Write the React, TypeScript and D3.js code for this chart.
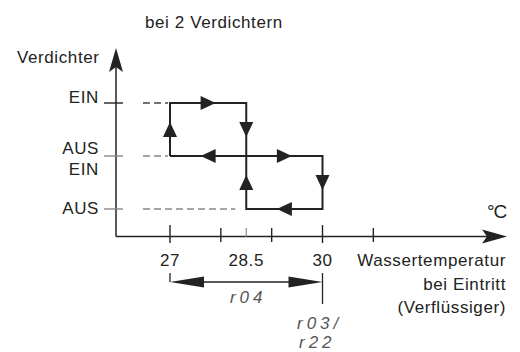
import React from 'react';
import * as d3 from 'd3';

// Compressor stage levels (0 = AUS, 1 = AUS/EIN, 2 = EIN)
const levels = [0, 1, 2];
const levelLabels = [["AUS"], ["AUS", "EIN"], ["EIN"]];
// Inlet water temperature ticks (°C)
const tempTicks = [27, 28, 28.5, 29, 30, 31];
const tempLabels = [27, 28.5, 30];
// Hysteresis loops
const loop1: [number, number][] = [[27, 1], [27, 2], [28.5, 2], [28.5, 1], [27, 1]];
const loop2: [number, number][] = [[28.5, 1], [30, 1], [30, 0], [28.5, 0], [28.5, 1]];
const dashEnds: [number, number][] = [[0, 28.5], [1, 27], [2, 27]];
const r04Range = [27, 30];

const FONT = "'Liberation Sans', Arial, Helvetica, sans-serif";
const INK = "#222";

export default function App() {
  const x = d3.scaleLinear().domain([27, 30]).range([170, 322.5]);
  const y = d3.scaleLinear().domain([0, 2]).range([209, 103]);
  const axisY = 236.5;
  const axisX = 116;

  const line = d3.line<[number, number]>().x(d => x(d[0])).y(d => y(d[1]));

  const arrowHead = (cx: number, cy: number, dx: number, dy: number, len = 15, w = 14) => {
    const px = -dy, py = dx;
    const tx = cx + dx * len / 2, ty = cy + dy * len / 2;
    const bx = cx - dx * len / 2, by = cy - dy * len / 2;
    return `M${tx},${ty} L${bx + px * w / 2},${by + py * w / 2} L${bx - px * w / 2},${by - py * w / 2} Z`;
  };

  const loopArrows = (pts: [number, number][]) =>
    pts.slice(0, -1).map((p, i) => {
      const q = pts[i + 1];
      const x1 = x(p[0]), y1 = y(p[1]), x2 = x(q[0]), y2 = y(q[1]);
      const L = Math.hypot(x2 - x1, y2 - y1);
      return arrowHead((x1 + x2) / 2, (y1 + y2) / 2, (x2 - x1) / L, (y2 - y1) / L);
    });

  const tickExtent = (t: number) => {
    if (t === 28.5) return [228, 236.5];
    if (t === 27 || t === 30) return [225, 243];
    return [228, 242];
  };

  const lcdStyle = {
    fontFamily: FONT,
    fontStyle: 'italic' as const,
    fontSize: 17,
    fill: '#555',
    letterSpacing: 4,
  };

  return (
    <svg width={520} height={352} style={{ position: 'absolute', left: 0, top: 0, background: '#fff' }}>
      <g fontFamily={FONT} fontSize={17} fill={INK} letterSpacing={0.6}>
        <text x={145} y={28}>bei 2 Verdichtern</text>
        <text x={17} y={63}>Verdichter</text>
        {levels.map(l => {
          const lab = levelLabels[l];
          if (lab.length === 2) {
            return (
              <g key={l}>
                <text x={99} y={y(l) - 2} textAnchor="end">{lab[0]}</text>
                <text x={99} y={y(l) + 19} textAnchor="end">{lab[1]}</text>
              </g>
            );
          }
          return <text key={l} x={99} y={l === 0 ? y(l) + 5 : y(l)} textAnchor="end">{lab[0]}</text>;
        })}
        {tempLabels.map(t => (
          <text key={t} x={x(t)} y={266} textAnchor="middle">{t}</text>
        ))}
        <text x={506} y={266} textAnchor="end">Wassertemperatur</text>
        <text x={506} y={289.5} textAnchor="end">bei Eintritt</text>
        <text x={506} y={313} textAnchor="end">(Verflüssiger)</text>
        <text x={487} y={218} fontSize={19} letterSpacing={-1}>°C</text>
      </g>

      {/* axes */}
      <line x1={axisX} y1={axisY} x2={axisX} y2={66} stroke={INK} strokeWidth={1.5} />
      <path d={`M${axisX},48 L${axisX + 7},72 L${axisX},67 L${axisX - 7},72 Z`} fill={INK} />
      <line x1={axisX} y1={axisY} x2={490} y2={axisY} stroke={INK} strokeWidth={1.5} />
      <path d={`M507,${axisY} L482,${axisY - 7} L487,${axisY} L482,${axisY + 7} Z`} fill={INK} />

      {/* y ticks */}
      {levels.map(l => (
        <line key={l} x1={104} x2={123} y1={y(l)} y2={y(l)} stroke={l === 2 ? INK : '#888'} strokeWidth={1.4} />
      ))}
      {/* x ticks */}
      {tempTicks.map(t => {
        const [a, b] = tickExtent(t);
        return <line key={t} x1={x(t)} x2={x(t)} y1={a} y2={b} stroke={t === 28.5 ? '#999' : INK} strokeWidth={1.4} />;
      })}

      {/* dashed reference lines */}
      {dashEnds.map(([l, t]) => (
        <line key={l} x1={143} x2={x(t) - (l === 0 ? 11 : 2)} y1={y(l)} y2={y(l)}
          stroke={l === 2 ? '#444' : '#888'} strokeWidth={1.3} strokeDasharray="7,4" />
      ))}

      {/* loops */}
      {[loop1, loop2].map((lp, i) => (
        <g key={i}>
          <path d={line(lp) || ''} fill="none" stroke={INK} strokeWidth={2} strokeLinejoin="miter" />
          {loopArrows(lp).map((d, j) => <path key={j} d={d} fill={INK} />)}
        </g>
      ))}

      {/* r04 dimension */}
      <line x1={x(r04Range[0])} x2={x(r04Range[0])} y1={273} y2={282} stroke={INK} strokeWidth={1.3} />
      <line x1={x(r04Range[1])} x2={x(r04Range[1])} y1={273} y2={304} stroke={INK} strokeWidth={1.3} />
      <line x1={x(r04Range[0]) + 20} x2={x(r04Range[1]) - 20} y1={282} y2={282} stroke={INK} strokeWidth={1.3} />
      <path d={`M${x(r04Range[0])},282 L${x(r04Range[0]) + 34},276.5 L${x(r04Range[0]) + 34},287.5 Z`} fill={INK} />
      <path d={`M${x(r04Range[1])},282 L${x(r04Range[1]) - 34},276.5 L${x(r04Range[1]) - 34},287.5 Z`} fill={INK} />

      <text x={(x(r04Range[0]) + x(r04Range[1])) / 2 + 2} y={303} textAnchor="middle" style={lcdStyle}>r04</text>
      <text x={297} y={329} style={lcdStyle}>r03/</text>
      <text x={299} y={348} style={lcdStyle}>r22</text>
    </svg>
  );
}
